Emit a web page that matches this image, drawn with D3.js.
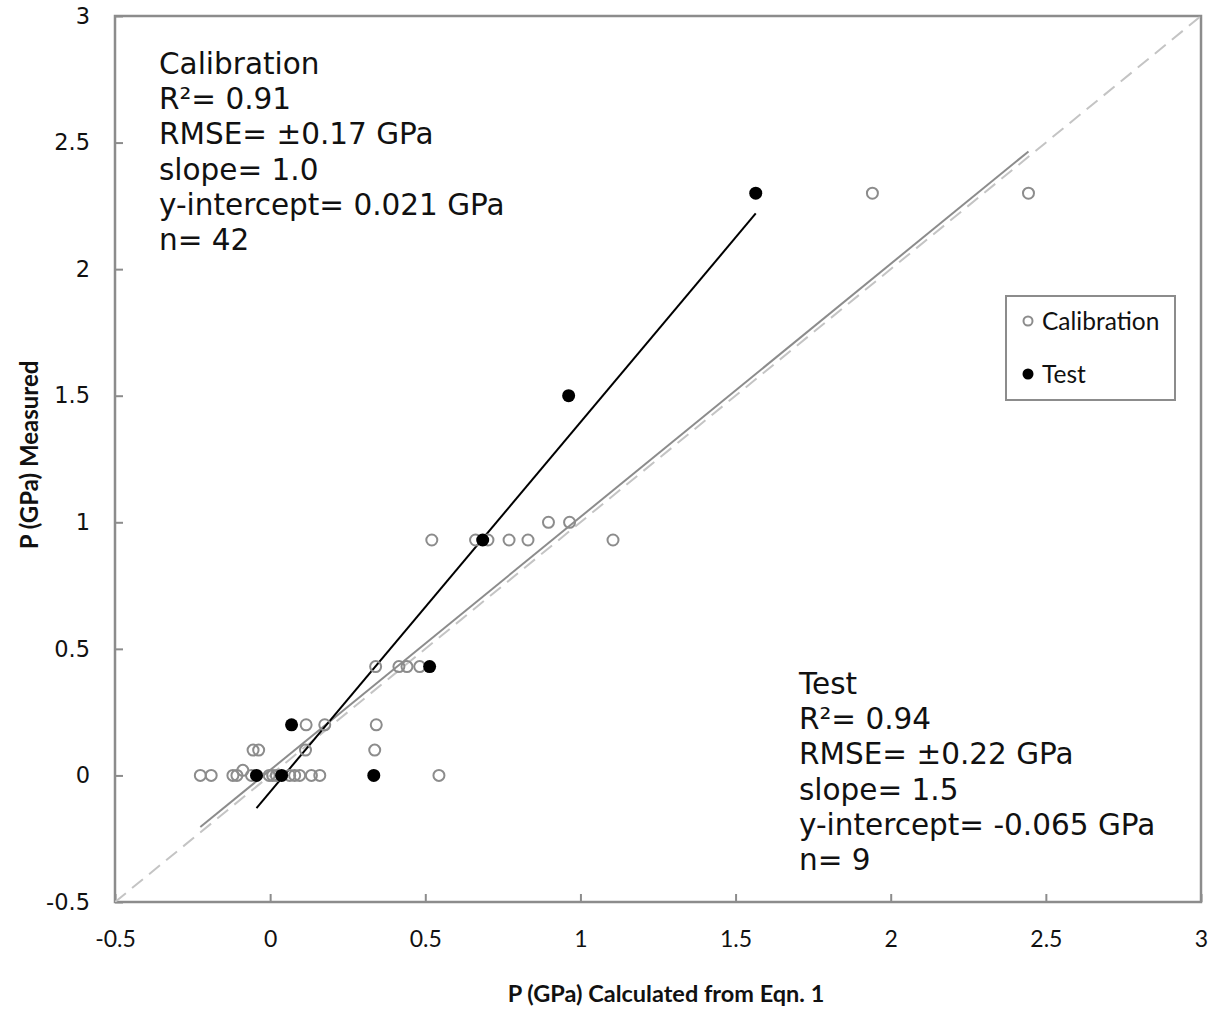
<!DOCTYPE html>
<html><head><meta charset="utf-8">
<script src="https://cdn.jsdelivr.net/npm/d3@7"></script>
<style>body{margin:0;background:#fff}</style>
</head><body>
<svg id="c" width="1210" height="1010"></svg>
<script>
const xTicks = [-0.5, 0, 0.5, 1, 1.5, 2, 2.5, 3];
const yTicks = [-0.5, 0, 0.5, 1, 1.5, 2, 2.5, 3];
const calX = [1.941, 2.444, 0.897, 0.965, 0.521, 0.662, 0.702, 0.770, 0.831, 1.105,
  0.340, 0.415, 0.441, 0.482, 0.116, 0.176, 0.342, -0.055, -0.037, 0.114, 0.337, -0.088,
  -0.225, -0.19, -0.12, -0.107, -0.06, -0.003, 0.008, 0.02, 0.063, 0.079, 0.095, 0.133, 0.16, 0.544];
const calY = [2.3, 2.3, 1.0, 1.0, 0.93, 0.93, 0.93, 0.93, 0.93, 0.93,
  0.43, 0.43, 0.43, 0.43, 0.2, 0.2, 0.2, 0.1, 0.1, 0.1, 0.1, 0.02,
  0, 0, 0, 0, 0, 0, 0, 0, 0, 0, 0, 0, 0, 0];
const testX = [1.565, 0.962, 0.685, 0.514, 0.069, -0.044, 0.037, 0.334];
const testY = [2.3, 1.5, 0.93, 0.43, 0.2, 0, 0, 0];
const calFit = {slope: 1.0, intercept: 0.021};
const testFit = {slope: 1.46, intercept: -0.065};
const calText = ["Calibration", "R\u00b2= 0.91", "RMSE= \u00b10.17 GPa", "slope= 1.0", "y-intercept= 0.021 GPa", "n= 42"];
const testText = ["Test", "R\u00b2= 0.94", "RMSE= \u00b10.22 GPa", "slope= 1.5", "y-intercept= -0.065 GPa", "n= 9"];
const legendItems = ["Calibration", "Test"];

const svg = d3.select("#c");
const x = d3.scaleLinear().domain([-0.5, 3]).range([115, 1201]);
const y = d3.scaleLinear().domain([-0.5, 3]).range([902, 16]);
const gray = "#8c8c8c";

svg.append("defs").append("clipPath").attr("id","clip").append("rect")
  .attr("x",115).attr("y",16).attr("width",1086).attr("height",886);

// axes
const xa = svg.append("g").attr("transform","translate(0,902)")
  .call(d3.axisBottom(x).tickValues(xTicks).tickSize(-8).tickPadding(29).tickFormat(d=>String(d)));
xa.select(".domain").remove();
xa.selectAll("line").attr("stroke",gray).attr("stroke-width",2);
xa.selectAll("text").attr("font-family","Lato, sans-serif").attr("font-size",23).attr("fill","#111");

const ya = svg.append("g").attr("transform","translate(115,0)")
  .call(d3.axisLeft(y).tickValues(yTicks).tickSize(-8).tickPadding(25).tickFormat(d=>String(d)));
ya.select(".domain").remove();
ya.selectAll("line").attr("stroke",gray).attr("stroke-width",2);
ya.selectAll("text").attr("font-family","DejaVu Sans, Verdana, sans-serif").attr("font-size",22.5).attr("fill","#111");

// frame
svg.append("rect").attr("x",115).attr("y",16).attr("width",1086).attr("height",886)
  .attr("fill","none").attr("stroke",gray).attr("stroke-width",2.5);

const plot = svg.append("g").attr("clip-path","url(#clip)");
// 1:1 line
plot.append("line").attr("x1",x(-0.5)).attr("y1",y(-0.5)).attr("x2",x(3)).attr("y2",y(3))
  .attr("stroke","#c4c4c4").attr("stroke-width",2).attr("stroke-dasharray","14,8");

// fits
const cx0 = d3.min(calX), cx1 = d3.max(calX);
plot.append("line").attr("x1",x(cx0)).attr("y1",y(calFit.slope*cx0+calFit.intercept))
  .attr("x2",x(cx1)).attr("y2",y(calFit.slope*cx1+calFit.intercept))
  .attr("stroke",gray).attr("stroke-width",2);
const tx0 = d3.min(testX), tx1 = d3.max(testX);
plot.append("line").attr("x1",x(tx0)).attr("y1",y(testFit.slope*tx0+testFit.intercept))
  .attr("x2",x(tx1)).attr("y2",y(testFit.slope*tx1+testFit.intercept))
  .attr("stroke","#000").attr("stroke-width",2);

// points
plot.selectAll(".cal").data(calX.map((d,i)=>[d,calY[i]])).join("circle")
  .attr("cx",d=>x(d[0])).attr("cy",d=>y(d[1])).attr("r",5.5)
  .attr("fill","none").attr("stroke",gray).attr("stroke-width",2);
plot.selectAll(".tst").data(testX.map((d,i)=>[d,testY[i]])).join("circle")
  .attr("cx",d=>x(d[0])).attr("cy",d=>y(d[1])).attr("r",6.5).attr("fill","#000");

// annotations
function block(lines, x0, y0){
  const t = svg.append("text").attr("font-family","DejaVu Sans, Verdana, sans-serif")
    .attr("font-size",29.5).attr("fill","#111");
  lines.forEach((s,i)=>t.append("tspan").attr("x",x0).attr("y",y0+i*35.2).text(s));
}
block(calText, 159, 74);
block(testText, 799, 694);

// legend
const lg = svg.append("g");
lg.append("rect").attr("x",1006).attr("y",296).attr("width",169).attr("height",104)
  .attr("fill","#fff").attr("stroke",gray).attr("stroke-width",2);
legendItems.forEach((s,i)=>{
  const cy = 321 + i*53;
  if(i===0) lg.append("circle").attr("cx",1028).attr("cy",cy).attr("r",4.5).attr("fill","none").attr("stroke",gray).attr("stroke-width",2);
  else lg.append("circle").attr("cx",1028).attr("cy",cy).attr("r",5.5).attr("fill","#000");
  lg.append("text").attr("x",1042).attr("y",cy).attr("dy","0.36em").attr("font-family","Lato, sans-serif")
    .attr("font-size",24.5).attr("fill","#111").text(s);
});

// axis titles
svg.append("text").attr("x",666).attr("y",1002).attr("text-anchor","middle")
  .attr("font-family","Lato, sans-serif").attr("font-weight","bold").attr("font-size",23.5).attr("fill","#111")
  .text("P (GPa) Calculated from Eqn. 1");
svg.append("text").attr("transform","translate(38,455) rotate(-90)").attr("text-anchor","middle")
  .attr("font-family","Lato, sans-serif").attr("font-weight","bold").attr("font-size",24).attr("fill","#111")
  .text("P (GPa) Measured");
</script>
</body></html>
